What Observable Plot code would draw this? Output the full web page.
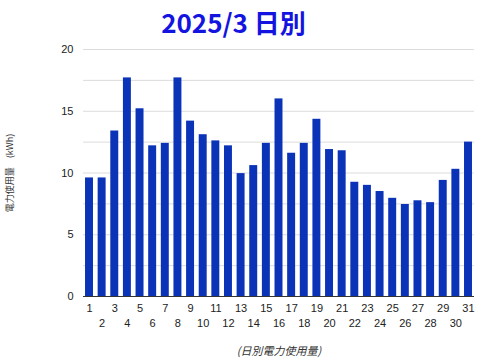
<!DOCTYPE html>
<html><head><meta charset="utf-8">
<script src="https://cdn.jsdelivr.net/npm/d3@7"></script>
<script src="https://cdn.jsdelivr.net/npm/@observablehq/plot@0.6"></script>
<style>
body{margin:0;background:#fff;}
#wrap{position:relative;width:480px;height:362px;overflow:hidden;}
#title{position:absolute;left:0;top:5px;width:467px;text-align:center;font:bold 26px "Noto Sans CJK JP",sans-serif;color:#1414e0;line-height:34px;}
#chart{position:absolute;left:0;top:40px;}
</style></head><body>
<div id="wrap"><div id="title">2025/3 日別</div><div id="chart"></div></div>
<script>
const days = [1,2,3,4,5,6,7,8,9,10,11,12,13,14,15,16,17,18,19,20,21,22,23,24,25,26,27,28,29,30,31];
const values = [9.6,9.6,13.4,17.7,15.2,12.2,12.4,17.7,14.2,13.1,12.6,12.2,9.95,10.6,12.4,16.0,11.6,12.4,14.35,11.9,11.8,9.25,9.0,8.5,7.95,7.45,7.75,7.6,9.4,10.3,12.5];
const oddDays = [1,3,5,7,9,11,13,15,17,19,21,23,25,27,29,31];
const evenDays = [2,4,6,8,10,12,14,16,18,20,22,24,26,28,30];
const yTicks = [0,5,10,15,20];
const gridTicks = [0,2.5,5,7.5,10,12.5,15,17.5,20];
const yTitle = "電力使用量　(kWh)";
const xTitle = "(日別電力使用量)";

const data = days.map((d, i) => ({day: d, kwh: values[i]}));
const chart = Plot.plot({
  width: 480, height: 322,
  marginTop: 9, marginBottom: 66, marginLeft: 83, marginRight: 6,
  style: {fontFamily: '"Liberation Sans", Arial, sans-serif', fontSize: "11px", color: "#222", background: "white"},
  x: {type: "band", domain: days, paddingInner: 0.37, paddingOuter: 0.16, align: 0.5, round: false},
  y: {domain: [0, 20]},
  marks: [
    Plot.gridY(gridTicks, {stroke: "#dcdcdc", strokeOpacity: 1}),
    Plot.barY(data, {x: "day", y: "kwh", fill: "#0a33b8"}),
    Plot.ruleY([0], {stroke: "#333"}),
    Plot.axisY(yTicks, {tickSize: 0, tickPadding: 10, label: null}),
    Plot.axisX(oddDays, {tickSize: 0, tickPadding: 8, label: null}),
    Plot.axisX(evenDays, {tickSize: 0, tickPadding: 23, label: null}),
    Plot.text([yTitle], {text: d => d, frameAnchor: "left", dx: -73, rotate: -90, textAnchor: "middle", fontSize: 9, fill: "#333", fontFamily: '"Noto Sans CJK JP", sans-serif'}),
    Plot.text([xTitle], {text: d => d, frameAnchor: "bottom", dy: 58, fontSize: 11, fontStyle: "italic", fill: "#333", fontFamily: '"Noto Sans CJK JP", sans-serif'})
  ]
});
document.getElementById("chart").appendChild(chart);
</script>
</body></html>
